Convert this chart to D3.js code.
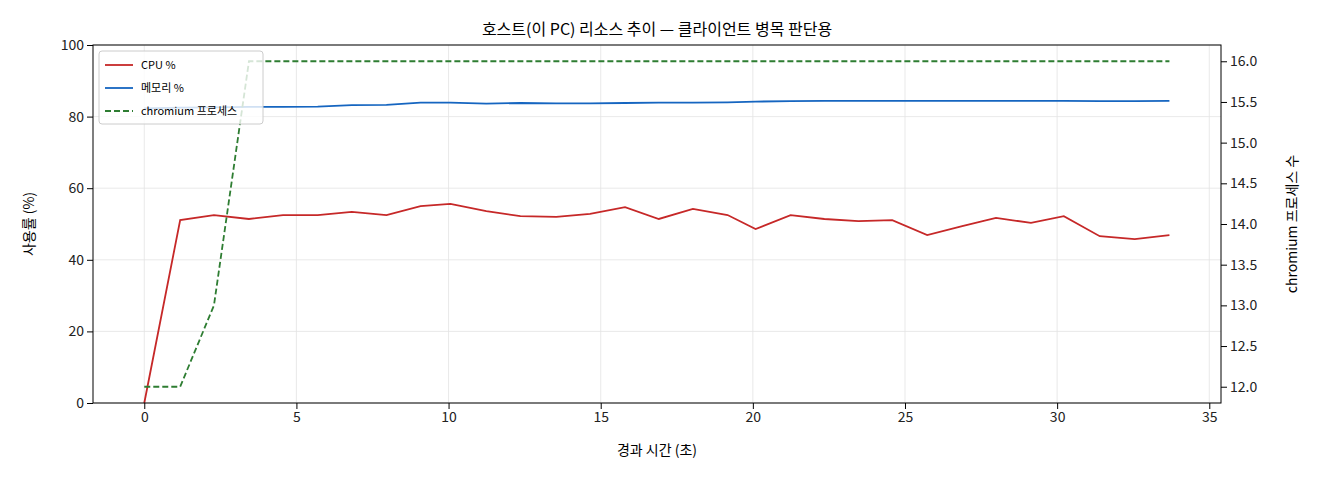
<!DOCTYPE html><html><head><meta charset="utf-8">
<script src="https://cdn.jsdelivr.net/npm/d3@7"></script>
<style>body{margin:0;background:#fff}text{font-family:"Noto Sans CJK KR",sans-serif}</style></head><body>
<svg id="c" width="1320" height="480"></svg>
<script>
const px=[142,178,212,247,281,316,350,385,419,449,485,519,555,589,624,658,692,727,755,790,824,858,892,927,962,996,1031,1064,1100,1135,1170];
const times=px.map(p=>+((p-142)/30.51).toFixed(2));
const cpu=[0,51.1,52.5,51.4,52.5,52.5,53.4,52.5,55,55.6,53.6,52.2,52,52.8,54.7,51.4,54.2,52.5,48.6,52.5,51.4,50.8,51.1,46.9,49.4,51.7,50.3,52.2,46.6,45.8,46.9];
const mem=[82.3,82.5,82.6,82.7,82.7,82.8,83.2,83.3,83.9,83.9,83.6,83.8,83.7,83.7,83.8,83.9,83.9,84.0,84.2,84.3,84.4,84.4,84.4,84.4,84.4,84.4,84.4,84.4,84.3,84.3,84.4];
const proc=[12,12,13,16,16,16,16,16,16,16,16,16,16,16,16,16,16,16,16,16,16,16,16,16,16,16,16,16,16,16,16];
const xTicks=[0,5,10,15,20,25,30,35],yTicks=[0,20,40,60,80,100],y2Ticks=[12,12.5,13,13.5,14,14.5,15,15.5,16];
const L=93,R=1221,T=45,B=403;
const svg=d3.select("#c");
const x=d3.scaleLinear().domain([-1.685,35.385]).range([L,R]);
const y=d3.scaleLinear().domain([0,100]).range([B,T]);
const y2=d3.scaleLinear().domain([11.8,16.2]).range([B,T]);
const g=svg.append("g");
xTicks.forEach(t=>g.append("line").attr("x1",x(t)).attr("x2",x(t)).attr("y1",T).attr("y2",B).attr("stroke","#e3e3e3").attr("stroke-width",0.8));
yTicks.forEach(t=>g.append("line").attr("y1",y(t)).attr("y2",y(t)).attr("x1",L).attr("x2",R).attr("stroke","#e3e3e3").attr("stroke-width",0.8));
const ln=(arr,sc)=>d3.line().x((d,i)=>x(times[i])).y(d=>sc(d))(arr);
svg.append("path").attr("d",ln(cpu,y)).attr("fill","none").attr("stroke","#c62828").attr("stroke-width",1.8);
svg.append("path").attr("d",ln(mem,y)).attr("fill","none").attr("stroke","#1565c0").attr("stroke-width",1.8);
svg.append("path").attr("d",ln(proc,y2)).attr("fill","none").attr("stroke","#2e7d32").attr("stroke-width",1.8).attr("stroke-dasharray","6,3");
svg.append("rect").attr("x",L).attr("y",T).attr("width",R-L).attr("height",B-T).attr("fill","none").attr("stroke","#000");
const fx=s=>s.attr("font-size",14);
fx(svg.append("g").attr("transform",`translate(0,${B})`).call(d3.axisBottom(x).tickValues(xTicks).tickSizeOuter(0)));
fx(svg.append("g").attr("transform",`translate(${L},0)`).call(d3.axisLeft(y).tickValues(yTicks).tickSizeOuter(0)));
fx(svg.append("g").attr("transform",`translate(${R},0)`).call(d3.axisRight(y2).tickValues(y2Ticks).tickFormat(d3.format(".1f")).tickSizeOuter(0)));
svg.selectAll(".domain").remove();
svg.selectAll(".tick text").attr("fill","#222");
svg.append("text").attr("x",(L+R)/2).attr("y",35).attr("text-anchor","middle").attr("font-size",16).text("호스트(이 PC) 리소스 추이 — 클라이언트 병목 판단용");
svg.append("text").attr("x",(L+R)/2).attr("y",455).attr("text-anchor","middle").attr("font-size",14).text("경과 시간 (초)");
svg.append("text").attr("transform",`translate(34,${(T+B)/2}) rotate(-90)`).attr("text-anchor","middle").attr("font-size",14).text("사용률 (%)");
svg.append("text").attr("transform",`translate(1297,${(T+B)/2}) rotate(-90)`).attr("text-anchor","middle").attr("font-size",14).text("chromium 프로세스 수");
const lg=svg.append("g").attr("transform","translate(99,51)");
lg.append("rect").attr("width",164).attr("height",73).attr("fill","#fff").attr("fill-opacity",0.8).attr("stroke","#ccc").attr("rx",3);
[["CPU %","#c62828",null],["메모리 %","#1565c0",null],["chromium 프로세스","#2e7d32","6,3"]].forEach((d,i)=>{
 const yy=14+i*23;
 lg.append("line").attr("x1",6).attr("x2",34).attr("y1",yy).attr("y2",yy).attr("stroke",d[1]).attr("stroke-width",1.8).attr("stroke-dasharray",d[2]);
 lg.append("text").attr("x",42).attr("y",yy+4).attr("font-size",11).text(d[0]);
});
</script></body></html>
